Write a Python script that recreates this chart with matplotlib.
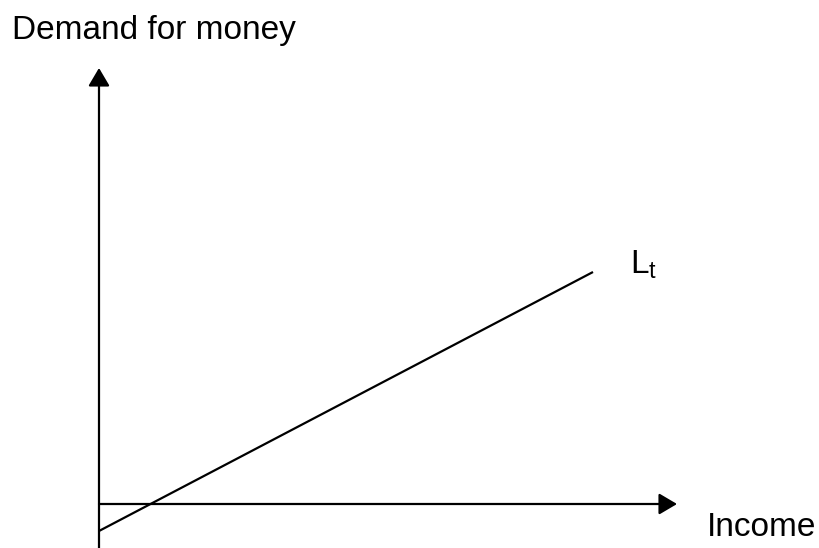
import matplotlib
matplotlib.use("Agg")
import matplotlib.pyplot as plt

# demand for money schedule L_t (1 unit = 50 px, origin where the axes cross)
income = [0.0, 9.88]
demand = [-0.54, 4.64]

x_axis_end = 11.56
y_axis_end = 8.72
y_axis_start = -0.88

plt.rcParams['font.family'] = ['Liberation Sans', 'DejaVu Sans']
plt.rcParams['mathtext.fontset'] = 'custom'
plt.rcParams['mathtext.rm'] = 'Liberation Sans'

fig = plt.figure(figsize=(8.19, 5.48), dpi=100)
ax = fig.add_axes([0, 0, 1, 1])
ax.set_xlim(-1.98, 14.4)
ax.set_ylim(-0.88, 10.08)
ax.axis('off')

arrow = dict(arrowstyle='-|>,head_length=11,head_width=6.5', mutation_scale=1,
             color='black', lw=1.6, shrinkA=0, shrinkB=0)
# vertical axis
ax.annotate('', xy=(0, y_axis_end), xytext=(0, y_axis_start), arrowprops=arrow)
# horizontal axis
ax.annotate('', xy=(x_axis_end, 0), xytext=(0, 0), arrowprops=arrow)

ax.plot(income, demand, color='black', lw=1.6, solid_capstyle='butt')

ax.text(-1.74, 9.3, 'Demand for money', fontsize=24, va='baseline', ha='left')
ax.text(12.16, -0.64, 'Income', fontsize=24, va='baseline', ha='left')
ax.text(10.62, 4.6, r'$\mathregular{L_t}$', fontsize=24, va='baseline', ha='left')

fig.savefig('out.png', dpi=100)
